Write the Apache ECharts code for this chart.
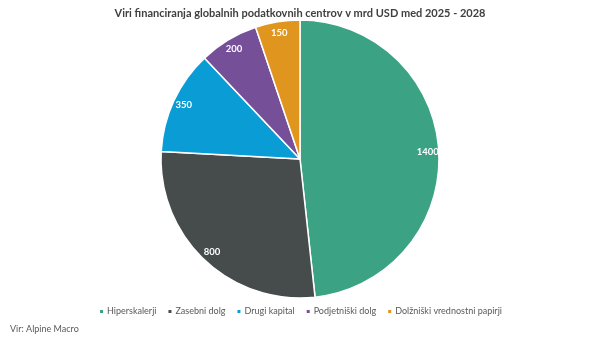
<!DOCTYPE html>
<html>
<head>
<meta charset="utf-8">
<script src="https://cdn.jsdelivr.net/npm/echarts@6/dist/echarts.min.js"></script>
<style>
  html, body { margin: 0; padding: 0; background: #ffffff; }
  #chart { width: 600px; height: 338px; }
</style>
</head>
<body>
<div id="chart"></div>
<script>
// Funding sources for global data centres, bn USD, 2025 - 2028
const categories = ['Hiperskalerji', 'Zasebni dolg', 'Drugi kapital', 'Podjetniški dolg', 'Dolžniški vrednostni papirji'];
const values = [1400, 800, 350, 200, 150];
const colors = ['#3ba283', '#464b4c', '#0a9dd5', '#764f99', '#df951e'];

const FONT = 'Lato, "Open Sans", sans-serif';
const pieData = categories.map((name, i) => ({ name, value: values[i] }));

const chart = echarts.init(document.getElementById('chart'), null, { renderer: 'canvas' });
chart.setOption({
  animation: false,
  backgroundColor: '#ffffff',
  color: colors,
  title: [{
    text: 'Viri financiranja globalnih podatkovnih centrov v mrd USD med 2025 - 2028',
    left: 'center',
    top: 3,
    textStyle: { fontFamily: FONT, fontSize: 11, fontWeight: 'bold', color: '#404040' }
  }, {
    text: 'Vir: Alpine Macro',
    left: 5,
    top: 320,
    textStyle: { fontFamily: FONT, fontSize: 9, fontWeight: 'normal', color: '#595959' }
  }],
  legend: {
    top: 302,
    left: 'center',
    icon: 'rect',
    itemWidth: 5,
    itemHeight: 5,
    itemGap: 10,
    data: categories,
    textStyle: { fontFamily: FONT, fontSize: 9, color: '#595959', padding: [0, 0, 0, -2] }
  },
  series: [{
    // visible slices
    type: 'pie',
    center: [300, 159],
    radius: [0, 139],
    startAngle: 90,
    clockwise: true,
    data: pieData,
    label: { show: false },
    labelLine: { show: false },
    itemStyle: { borderColor: '#ffffff', borderWidth: 1.5 },
    emphasis: { disabled: true }
  }, {
    // transparent ring carrying the value labels near the outer edge
    type: 'pie',
    center: [300, 159],
    radius: [111, 139],
    startAngle: 90,
    clockwise: true,
    silent: true,
    data: pieData,
    itemStyle: { color: 'transparent', borderWidth: 0 },
    label: {
      show: true,
      position: 'inside',
      formatter: '{c}',
      fontFamily: FONT,
      fontSize: 9.5,
      fontWeight: 'bold',
      color: '#ffffff'
    },
    labelLine: { show: false },
    emphasis: { disabled: true }
  }]
});
</script>
</body>
</html>
